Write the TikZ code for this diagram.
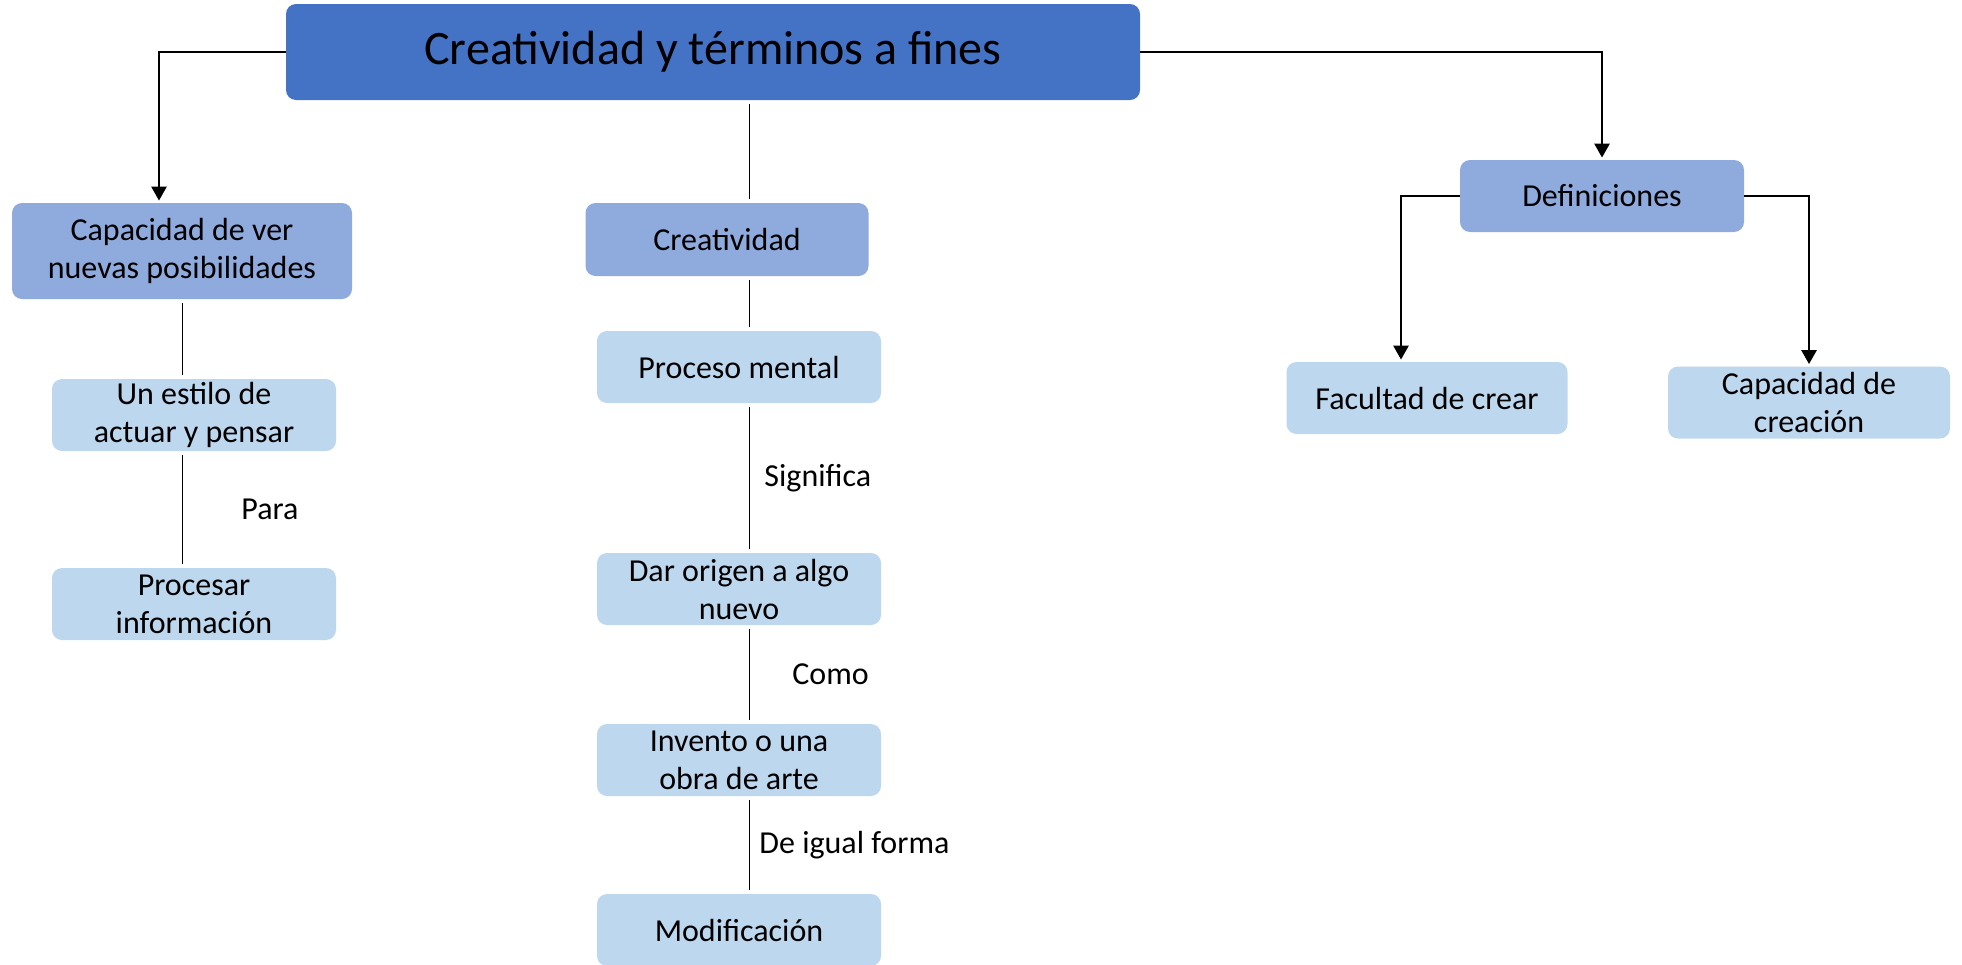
\documentclass[tikz,border=0pt]{standalone}
\usepackage{fontspec}
\setmainfont{Carlito}
\usetikzlibrary{positioning,arrows.meta}
\newcommand{\definitions}{%
  % color of the title box
  \definecolor{colTop}{HTML}{4472C4}
  % color of the second level boxes
  \definecolor{colMid}{HTML}{8FAADC}
  % color of the leaf boxes
  \definecolor{colLeaf}{HTML}{BDD7EE}

  % x position of the left chain
  \coordinate (oLeft) at (182, 0);
  % x position of the middle chain
  \coordinate (oMid) at (749, 0);
}
\tikzset{
  box/.style={rounded corners=5pt, align=center, inner sep=0pt,
    minimum width=142pt, minimum height=36pt,
    font=\fontsize{16}{19}\selectfont},
  topbox/.style={box, fill=colTop, minimum width=427pt, minimum height=48pt,
    font=\fontsize{24}{28}\selectfont},
  midbox/.style={box, fill=colMid},
  leafbox/.style={box, fill=colLeaf},
  arrowline/.style={line width=1.3pt, -{Triangle[length=7pt,width=7.5pt]}, shorten >=1pt},
  thinline/.style={line width=0.5pt, shorten <=2pt, shorten >=2pt},
  lbl/.style={inner sep=0pt, font=\fontsize{16}{19}\selectfont}
}
\begin{document}
\begin{tikzpicture}[x=0.5pt, y=-0.5pt]

  % define colors and positions
  \definitions
  \useasboundingbox (0, 0) rectangle (1962, 964);

  % title
  \node[topbox] (title) at (713, 52) {Creatividad y términos a fines};

  % left chain
  \node[midbox, minimum width=170pt, minimum height=48pt] (cap) at (182, 251)
    {Capacidad de ver\\nuevas posibilidades};
  \node[leafbox] (est) at (194, 415) {Un estilo de\\actuar y pensar};
  \node[leafbox] (proc) at (194, 604) {Procesar\\información};

  % middle chain
  \node[midbox, minimum width=141.5pt, minimum height=36.5pt] (cre) at (727, 239.5) {Creatividad};
  \node[leafbox] (pm) at (739, 367) {Proceso mental};
  \node[leafbox] (dor) at (739, 589) {Dar origen a algo\\nuevo};
  \node[leafbox] (inv) at (739, 760) {Invento o una\\obra de arte};
  \node[leafbox] (mod) at (739, 930) {Modificación};

  % right branch
  \node[midbox] (def) at (1602, 196) {Definiciones};
  \node[leafbox, minimum width=140.5pt] (fac) at (1427, 398) {Facultad de crear};
  \node[leafbox, minimum width=141pt] (crea) at (1809, 402.5) {Capacidad de\\creación};

  % arrows
  \draw[arrowline] (title.west) -| ([xshift=-11.5pt]cap.north);
  \draw[arrowline] (title.east) -| (def.north);
  \draw[arrowline] (def.west) -| ([xshift=-13pt]fac.north);
  \draw[arrowline] (def.east) -| (crea.north);

  % plain lines
  \draw[thinline] (title.south -| oMid) -- (cre.north -| oMid);
  \draw[thinline] (cre.south -| oMid) -- (pm.north -| oMid);
  \draw[thinline] (pm.south -| oMid) -- coordinate (cSig) (dor.north -| oMid);
  \draw[thinline] (dor.south -| oMid) -- coordinate (cComo) (inv.north -| oMid);
  \draw[thinline] (inv.south -| oMid) -- coordinate (cIgual) (mod.north -| oMid);
  \draw[thinline] (cap.south -| oLeft) -- (est.north -| oLeft);
  \draw[thinline] (est.south -| oLeft) -- coordinate (cPara) (proc.north -| oLeft);

  % line labels
  \node[lbl, right=7.5pt of cSig] {Significa};
  \node[lbl, right=21.5pt of cComo] {Como};
  \node[lbl, right=5pt of cIgual] {De igual forma};
  \node[lbl, right=29.5pt of cPara] {Para};

\end{tikzpicture}
\end{document}
